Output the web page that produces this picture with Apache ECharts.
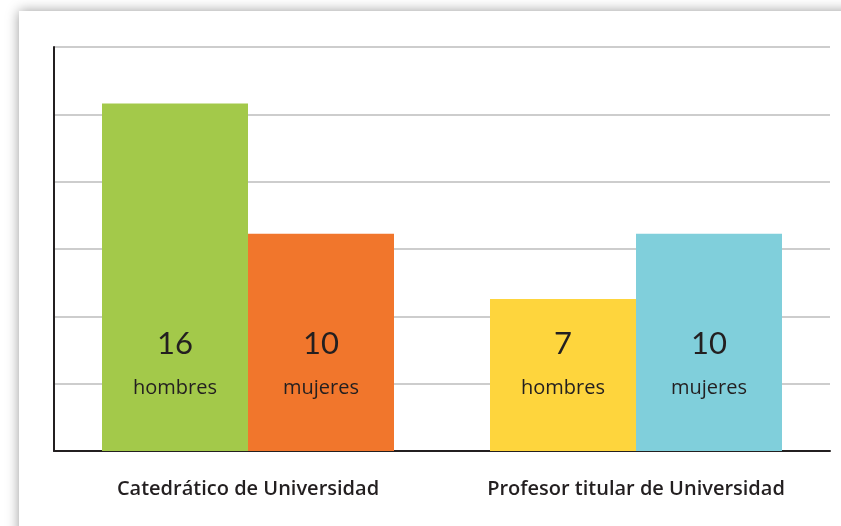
<!DOCTYPE html>
<html>
<head>
<meta charset="utf-8">
<script src="https://cdn.jsdelivr.net/npm/echarts@6/dist/echarts.min.js"></script>
<style>
  html, body { margin: 0; padding: 0; background: #fff; overflow: hidden; }
  #card {
    position: absolute; left: 19px; top: 11px; width: 900px; height: 600px;
    background: #fff; box-shadow: 0 0 12px rgba(0, 0, 0, 0.4);
  }
  #chart { position: absolute; left: 0; top: 0; width: 841px; height: 526px; }
</style>
</head>
<body>
<div id="card"></div>
<div id="chart"></div>
<script>
const categories = ["Catedrático de Universidad", "Profesor titular de Universidad"];
const hombres = [16, 7];
const mujeres = [10, 10];
const hombresColors = ["#a3c94a", "#fed53d"];
const mujeresColors = ["#f1762c", "#80cfdb"];

const ink = "#231f20";

function barLabel(word) {
  return {
    show: true,
    position: "insideBottom",
    distance: 51,
    formatter: (p) => `{n|${p.value}}\n{t|${word}}`,
    rich: {
      n: { fontFamily: "Lato", fontSize: 31, color: ink, lineHeight: 64 },
      t: { fontFamily: "Open Sans", fontSize: 20, color: ink, lineHeight: 24 },
    },
  };
}

const chart = echarts.init(document.getElementById("chart"));
chart.setOption({
  animation: false,
  grid: { left: 54, right: 11, top: 47, bottom: 75 },
  xAxis: {
    type: "category",
    data: categories,
    axisLine: { lineStyle: { color: ink, width: 2 } },
    axisTick: { show: false },
    axisLabel: { margin: 28, fontFamily: "Open Sans", fontSize: 20, fontWeight: 600, color: ink },
  },
  yAxis: {
    type: "value",
    min: 0,
    max: 18.6,
    interval: 3.1,
    axisLine: { show: true, lineStyle: { color: ink, width: 2 } },
    axisTick: { show: false },
    axisLabel: { show: false },
    splitLine: { lineStyle: { color: "#bdbdbd", width: 1.5 } },
  },
  series: [
    {
      name: "hombres",
      type: "bar",
      barWidth: 146,
      barGap: 0,
      data: hombres.map((v, i) => ({ value: v, itemStyle: { color: hombresColors[i] } })),
      label: barLabel("hombres"),
    },
    {
      name: "mujeres",
      type: "bar",
      barWidth: 146,
      barGap: 0,
      data: mujeres.map((v, i) => ({ value: v, itemStyle: { color: mujeresColors[i] } })),
      label: barLabel("mujeres"),
    },
  ],
});
</script>
</body>
</html>
